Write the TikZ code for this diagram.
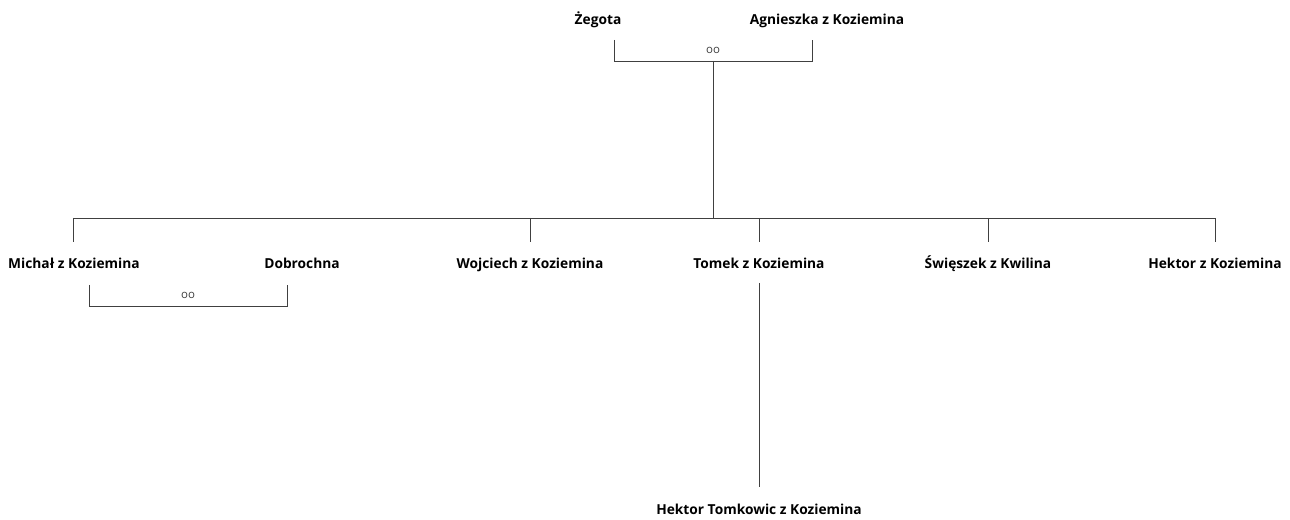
\documentclass[tikz,border=0pt]{standalone}
\usepackage{fontspec}
\setmainfont{Open Sans}
\begin{document}
\begin{tikzpicture}[x=1bp,y=-1bp,
  person/.style={font=\fontsize{13.8}{16}\selectfont\bfseries, text=black, inner sep=0pt, anchor=base},
  marr/.style={font=\fontsize{11.5}{13}\selectfont, text=black!75, inner sep=0pt},
  link/.style={draw=black!75, line width=0.9bp}]
\useasboundingbox[fill=white] (0,0) rectangle (1290,520);

% first generation
\node[person] (zeg) at (598,25) {Żegota};
\node[person] (agn) at (827,25) {Agnieszka z Koziemina};
\coordinate (zegL) at (614,40);
\coordinate (agnR) at (812,40);
\draw[link] (zegL) -- ++(0,21) -| (agnR);
\node[marr] (m1) at (713,50) {oo};
\coordinate (fam) at (713,61);
\coordinate (bus) at (713,218);
\draw[link] (fam) -- (bus);

% children
\node[person] (mic) at (74,269) {Michał z Koziemina};
\node[person] (woj) at (530,269) {Wojciech z Koziemina};
\node[person] (tom) at (759,269) {Tomek z Koziemina};
\node[person] (swi) at (988,269) {Święszek z Kwilina};
\node[person] (hek) at (1215,269) {Hektor z Koziemina};
\coordinate (busL) at (73,218);
\coordinate (busR) at (1215,218);
\draw[link] (busL) -- (busR);
\foreach \c in {73,530,759,988,1215}
  \draw[link] (\c,218) -- (\c,242);

% Michał's marriage
\node[person] (dob) at (302,269) {Dobrochna};
\coordinate (micL) at (89,285);
\coordinate (dobR) at (287,285);
\draw[link] (micL) -- ++(0,21) -| (dobR);
\node[marr] (m2) at (188,295) {oo};

% grandchild
\coordinate (tomD) at (759,283);
\coordinate (hekT) at (759,487);
\draw[link] (tomD) -- (hekT);
\node[person] (hto) at (759,514) {Hektor Tomkowic z Koziemina};
\end{tikzpicture}
\end{document}
